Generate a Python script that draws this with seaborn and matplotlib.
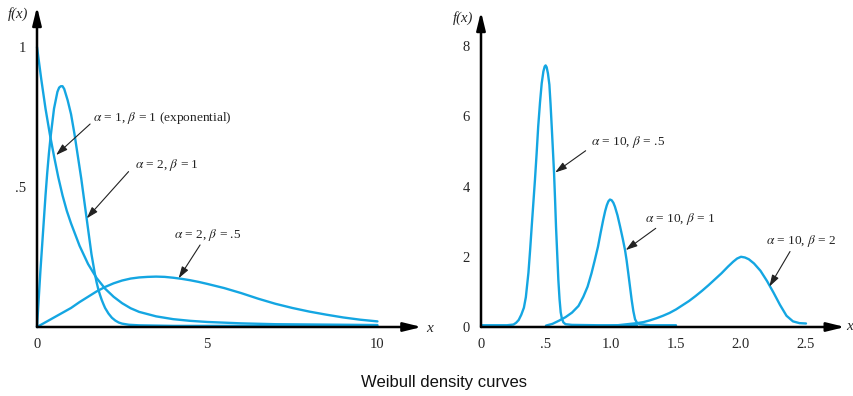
import numpy as np
import pandas as pd
import matplotlib
matplotlib.use("Agg")
import matplotlib.pyplot as plt
import seaborn as sns

# left panel: values
x_exp = [0, 0.125, 0.25, 0.375, 0.5, 0.625, 0.75, 0.875, 1.0, 1.25, 1.5, 1.75, 2.0, 2.25, 2.5,
         2.75, 3.0, 3.5, 4.0, 4.5, 5.0, 6.0, 7.0, 8.0, 9.0, 10.0]
f_exp = [1.0, 0.885, 0.78, 0.69, 0.61, 0.535, 0.47, 0.415, 0.37, 0.29, 0.225, 0.175, 0.137, 0.108,
         0.085, 0.067, 0.054, 0.038, 0.028, 0.022, 0.018, 0.013, 0.010, 0.009, 0.008, 0.007]

x_a2b1 = [0, 0.05, 0.1, 0.15, 0.2, 0.25, 0.3, 0.35, 0.4, 0.45, 0.5, 0.55, 0.6, 0.65, 0.7, 0.75,
          0.8, 0.85, 0.9, 0.95, 1.0, 1.05, 1.1, 1.15, 1.2, 1.25, 1.3, 1.35, 1.4, 1.45, 1.5, 1.55,
          1.6, 1.65, 1.7, 1.75, 1.8, 1.85, 1.9, 1.95, 2.0, 2.1, 2.2, 2.3, 2.4, 2.5, 2.7, 3.0,
          4.0, 6.0, 8.0, 10.0]
f_a2b1 = [0, 0.10, 0.20, 0.29, 0.38, 0.47, 0.55, 0.62, 0.68, 0.73, 0.78, 0.81, 0.84, 0.855, 0.86,
          0.86, 0.85, 0.83, 0.81, 0.785, 0.76, 0.725, 0.69, 0.65, 0.61, 0.57, 0.53, 0.485, 0.44,
          0.395, 0.35, 0.305, 0.26, 0.225, 0.19, 0.16, 0.135, 0.115, 0.097, 0.082, 0.068, 0.048,
          0.033, 0.023, 0.016, 0.012, 0.008, 0.006, 0.004, 0.004, 0.003, 0.003]

x_a2b05 = [0, 0.25, 0.5, 0.75, 1.0, 1.25, 1.5, 1.75, 2.0, 2.25, 2.5, 2.75, 3.0, 3.25, 3.5, 3.75,
           4.0, 4.25, 4.5, 4.75, 5.0, 5.5, 6.0, 6.5, 7.0, 7.5, 8.0, 8.5, 9.0, 9.5, 10.0]
f_a2b05 = [0, 0.017, 0.034, 0.051, 0.068, 0.089, 0.108, 0.127, 0.143, 0.156, 0.166, 0.173, 0.177,
           0.179, 0.180, 0.179, 0.176, 0.172, 0.167, 0.161, 0.154, 0.139, 0.121, 0.101, 0.083,
           0.068, 0.055, 0.044, 0.034, 0.026, 0.020]

# right panel
x_b05 = [0, 0.1, 0.2, 0.25, 0.27, 0.29, 0.31, 0.33, 0.345, 0.355, 0.365, 0.378, 0.39, 0.403,
         0.415, 0.428, 0.44, 0.454, 0.467, 0.48, 0.49, 0.497, 0.505, 0.515, 0.526, 0.535, 0.544,
         0.553, 0.562, 0.57, 0.577, 0.586, 0.595, 0.604, 0.613, 0.622, 0.634, 0.65, 0.7, 0.9, 1.2]
f_b05 = [0.05, 0.05, 0.05, 0.07, 0.12, 0.2, 0.35, 0.55, 0.85, 1.2, 1.55, 2.2, 2.86, 3.55,
         4.19, 4.95, 5.71, 6.4, 6.94, 7.28, 7.42, 7.45, 7.4, 7.22, 6.9, 6.35, 5.71,
         5.05, 4.38, 3.6, 2.86, 2.1, 1.34, 0.8, 0.42, 0.24, 0.13, 0.08, 0.06, 0.05, 0.05]

x_b1 = [0.5, 0.55, 0.6, 0.65, 0.7, 0.75, 0.787, 0.82, 0.85, 0.875, 0.9, 0.92, 0.94, 0.955, 0.968,
        0.98, 0.992, 1.005, 1.018, 1.03, 1.05, 1.07, 1.09, 1.108, 1.12, 1.133, 1.146, 1.159,
        1.172, 1.185, 1.2, 1.22, 1.3, 1.5]
f_b1 = [0.04, 0.09, 0.18, 0.28, 0.41, 0.6, 0.86, 1.15, 1.53, 1.9, 2.29, 2.68, 3.05, 3.3, 3.47,
        3.58, 3.63, 3.61, 3.54, 3.43, 3.18, 2.86, 2.52, 2.19, 1.9, 1.53, 1.15, 0.77,
        0.45, 0.22, 0.12, 0.08, 0.05, 0.05]

x_b2 = [1.0, 1.1, 1.2, 1.25, 1.3, 1.35, 1.4, 1.45, 1.5, 1.55, 1.6, 1.65, 1.7, 1.75, 1.8, 1.85,
        1.9, 1.94, 1.97, 2.0, 2.03, 2.06, 2.1, 2.15, 2.2, 2.25, 2.3, 2.35, 2.4, 2.45, 2.5]
f_b2 = [0.03, 0.07, 0.11, 0.14, 0.19, 0.25, 0.32, 0.4, 0.5, 0.62, 0.74, 0.88, 1.03, 1.19, 1.36,
        1.53, 1.72, 1.86, 1.95, 2.0, 1.98, 1.93, 1.81, 1.6, 1.31, 0.98, 0.63, 0.32, 0.16, 0.11, 0.10]

left_xticks = [0, 5, 10]
left_xlabels = ["0", "5", "10"]
left_yticks = [0.5, 1]
left_ylabels = [".5", "1"]
right_xticks = [0, 0.5, 1.0, 1.5, 2.0, 2.5]
right_xlabels = ["0", ".5", "1.0", "1.5", "2.0", "2.5"]
right_yticks = [0, 2, 4, 6, 8]
right_ylabels = ["0", "2", "4", "6", "8"]

left_notes = [
    (r"$\alpha$ = 1, $\beta$ = 1 (exponential)", (1.656, 0.745), (1.56, 0.725), (0.56, 0.614)),
    (r"$\alpha$ = 2, $\beta$ = 1", (2.88, 0.579), (2.69, 0.555), (1.46, 0.388)),
    (r"$\alpha$ = 2, $\beta$ = .5", (4.03, 0.329), (4.79, 0.293), (4.16, 0.174)),
]
right_notes = [
    (r"$\alpha$ = 10, $\beta$ = .5", (0.844, 5.26), (0.805, 5.02), (0.57, 4.4)),
    (r"$\alpha$ = 10, $\beta$ = 1", (1.262, 3.08), (1.344, 2.81), (1.113, 2.19)),
    (r"$\alpha$ = 10, $\beta$ = 2", (2.19, 2.45), (2.377, 2.15), (2.218, 1.15)),
]

sns.set_style("white")
plt.rcParams['font.family'] = ['Liberation Serif', 'DejaVu Serif']
plt.rcParams['mathtext.fontset'] = 'stix'

blue = '#14A6E2'
W, H = 854, 396
fig = plt.figure(figsize=(W / 100, H / 100), dpi=100)

ax1 = fig.add_axes([37 / W, 69 / H, (421.7 - 37) / W, (327 - 6.7) / H])
ax2 = fig.add_axes([481 / W, 69 / H, 364 / W, (327 - 11.7) / H])


def draw_panel(ax, curves, xlim, ylim, xt, xl, yt, yl, notes):
    for xs, ys in curves:
        df = pd.DataFrame({'x': xs, 'f': ys})
        sns.lineplot(data=df, x='x', y='f', ax=ax, color=blue, lw=1.7, sort=False)
    for ln in ax.lines:
        ln.set_clip_on(False)
        ln.set_solid_joinstyle('round')
    ax.set_xlim(*xlim)
    ax.set_ylim(*ylim)
    ax.set_xlabel('')
    ax.set_ylabel('')
    ax.set_xticks(xt, xl)
    ax.set_yticks(yt, yl)
    ax.tick_params(direction='out', length=5, width=1, color='black', labelsize=10.5, pad=3)
    for s in ax.spines.values():
        s.set_visible(False)
    # axes drawn as arrows
    ax.annotate('', xy=(1, 0), xytext=(0, 0), xycoords='axes fraction',
                arrowprops=dict(arrowstyle='-|>,head_length=0.9,head_width=0.22', lw=1.8,
                                color='black', mutation_scale=12, shrinkA=0, shrinkB=0),
                zorder=5, annotation_clip=False)
    ax.annotate('', xy=(0, 1), xytext=(0, 0), xycoords='axes fraction',
                arrowprops=dict(arrowstyle='-|>,head_length=0.9,head_width=0.22', lw=1.8,
                                color='black', mutation_scale=12, shrinkA=0, shrinkB=0),
                zorder=5, annotation_clip=False)
    for txt, pos, tail, tip in notes:
        ax.text(pos[0], pos[1], txt, ha='left', va='center', fontsize=9.6, color='#222222')
        ax.annotate('', xy=tip, xytext=tail,
                    arrowprops=dict(arrowstyle='-|>,head_length=0.7,head_width=0.22', lw=0.8,
                                    color='#222222', mutation_scale=10, shrinkA=0, shrinkB=0))


draw_panel(ax1, [(x_exp, f_exp), (x_a2b1, f_a2b1), (x_a2b05, f_a2b05)], (0, 11.3), (0, 1.144),
           left_xticks, left_xlabels, left_yticks, left_ylabels, left_notes)
draw_panel(ax2, [(x_b05, f_b05), (x_b1, f_b1), (x_b2, f_b2)], (0, 2.8), (0, 8.98),
           right_xticks, right_xlabels, right_yticks, right_ylabels, right_notes)

fig.text(18 / W, 1 - 14 / H, 'f(x)', ha='center', va='center', fontsize=10.5, style='italic')
fig.text(463 / W, 1 - 18 / H, 'f(x)', ha='center', va='center', fontsize=10.5, style='italic')
fig.text(430 / W, 1 - 328 / H, 'x', ha='center', va='center', fontsize=11, style='italic')
fig.text(853 / W, 1 - 326 / H, 'x', ha='right', va='center', fontsize=11, style='italic')

fig.text(444.5 / W, 1 - 383 / H, 'Weibull density curves', ha='center', va='center',
         fontsize=12, family=['Liberation Sans', 'DejaVu Sans'], color='#111111')

fig.savefig('out.png', dpi=100)
